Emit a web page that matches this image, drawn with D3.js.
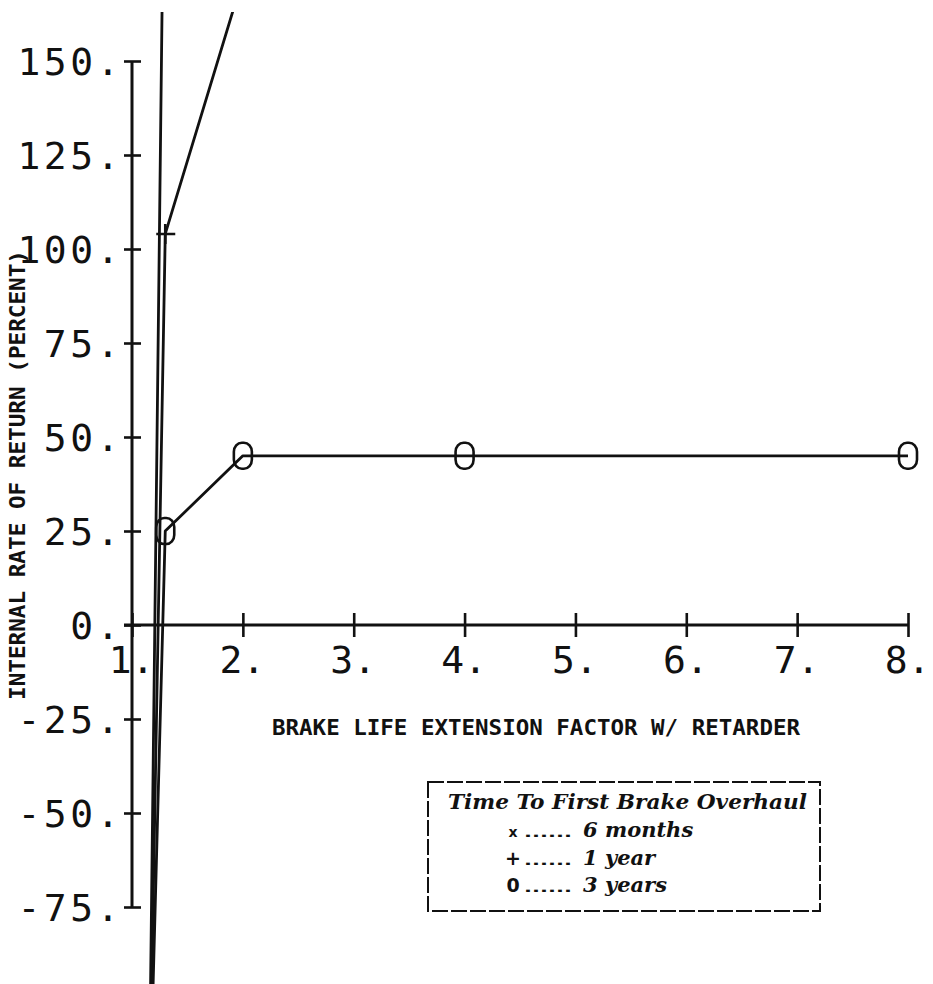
<!DOCTYPE html>
<html>
<head>
<meta charset="utf-8">
<script src="https://cdn.jsdelivr.net/npm/d3@7/dist/d3.min.js"></script>
<style>
  html, body { margin: 0; padding: 0; background: #fff; }
  svg { display: block; }
</style>
</head>
<body>
<svg id="chart" width="933" height="984"></svg>
<script>
// ---- data ----
const factors = [1.15, 1.3, 2, 4, 8];
const irr6Months = [-140, 236, 420, 420, 420];
const irr1Year = [-140, 104, 172, 175, 175];
const irr3Years = [-140, 25, 45, 45, 45];
const xTicks = [1, 2, 3, 4, 5, 6, 7, 8];
const yTicks = [-75, -50, -25, 0, 25, 50, 75, 100, 125, 150];
const legendTitle = "Time To First Brake Overhaul";
const legendItems = [
  { sym: "x", label: "6 months" },
  { sym: "+", label: "1 year" },
  { sym: "0", label: "3 years" }
];
const xTitle = "BRAKE LIFE EXTENSION FACTOR W/ RETARDER";
const yTitle = "INTERNAL RATE OF RETURN (PERCENT)";

// ---- layout ----
const svg = d3.select("#chart");
const x = d3.scaleLinear().domain([1, 8]).range([132, 908]);
const y = d3.scaleLinear().domain([-75, 150]).range([907, 61]);
const ink = "#111";
const monoFont = "'DejaVu Sans Mono', 'Liberation Mono', monospace";

// clip region for data (plot frame top ~ y=12)
svg.append("defs").append("clipPath").attr("id", "plotclip")
  .append("rect").attr("x", 0).attr("y", 12).attr("width", 933).attr("height", 1000);

// ---- Y axis ----
const yAxis = d3.axisLeft(y).tickValues(yTicks).tickSize(0).tickFormat(d => String(d) + ".");
const gy = svg.append("g").attr("transform", `translate(${x(1)},0)`).call(yAxis);
gy.select(".domain").remove();
gy.selectAll(".tick line").attr("x1", -8).attr("x2", 9)
  .attr("stroke", ink).attr("stroke-width", 2.6);
gy.selectAll(".tick text")
  .attr("x", -9).attr("dy", "0.36em")
  .attr("font-family", monoFont).attr("font-size", 38).attr("fill", ink)
  .attr("letter-spacing", 3.5)
  .attr("text-anchor", "end");
gy.append("line").attr("x1", 0).attr("x2", 0).attr("y1", y(150)).attr("y2", y(-75))
  .attr("stroke", ink).attr("stroke-width", 3);

// ---- X axis ----
const xAxis = d3.axisBottom(x).tickValues(xTicks).tickSize(0).tickFormat(d => String(d) + ".");
const gx = svg.append("g").attr("transform", `translate(0,${y(0)})`).call(xAxis);
gx.select(".domain").remove();
gx.selectAll(".tick line").attr("y1", -12).attr("y2", 12)
  .attr("stroke", ink).attr("stroke-width", 2.6);
gx.selectAll(".tick text")
  .attr("y", 48).attr("dy", 0).attr("x", -1)
  .attr("font-family", monoFont).attr("font-size", 38).attr("fill", ink)
  .attr("text-anchor", "middle");
gx.append("line").attr("x1", x(1) - 8).attr("x2", x(8)).attr("y1", 0).attr("y2", 0)
  .attr("stroke", ink).attr("stroke-width", 3);

// ---- axis titles ----
svg.append("text")
  .attr("x", 272).attr("y", 735)
  .attr("textLength", 528).attr("lengthAdjust", "spacingAndGlyphs")
  .attr("font-family", monoFont).attr("font-weight", "bold").attr("font-size", 22)
  .attr("fill", ink).text(xTitle);

svg.append("text")
  .attr("transform", "translate(25,700) rotate(-90)")
  .attr("x", 0).attr("y", 0)
  .attr("textLength", 450).attr("lengthAdjust", "spacingAndGlyphs")
  .attr("font-family", monoFont).attr("font-weight", "bold").attr("font-size", 21)
  .attr("fill", ink).text(yTitle);

// ---- data lines ----
const line = d3.line().x(d => x(d[0])).y(d => y(d[1]));
const plot = svg.append("g").attr("clip-path", "url(#plotclip)");
const series = [
  { key: "6m", values: irr6Months, sym: "x" },
  { key: "1y", values: irr1Year, sym: "+" },
  { key: "3y", values: irr3Years, sym: "0" }
];
series.forEach(s => {
  const pts = factors.map((f, i) => [f, s.values[i]]);
  plot.append("path").datum(pts).attr("d", line)
    .attr("fill", "none").attr("stroke", ink).attr("stroke-width", 2.8)
    .attr("stroke-linejoin", "round");
  const mk = plot.selectAll(null).data(pts.slice(1)).enter().append("g")
    .attr("transform", d => `translate(${x(d[0])},${y(d[1])})`);
  if (s.sym === "0") {
    mk.append("rect").attr("x", -9).attr("y", -13).attr("width", 18).attr("height", 26)
      .attr("rx", 8).attr("ry", 9)
      .attr("fill", "none").attr("stroke", ink).attr("stroke-width", 2.6);
  } else if (s.sym === "+") {
    mk.append("path").attr("d", "M-9,0H10M0,-10V10")
      .attr("stroke", ink).attr("stroke-width", 2.6);
  } else {
    mk.append("path").attr("d", "M-6,-6L6,6M-6,6L6,-6")
      .attr("stroke", ink).attr("stroke-width", 2.6);
  }
});

// ---- legend ----
const lg = svg.append("g");
lg.append("rect").attr("x", 428).attr("y", 782).attr("width", 392).attr("height", 129)
  .attr("fill", "none").attr("stroke", ink).attr("stroke-width", 2)
  .attr("stroke-dasharray", "16,3");
lg.append("text").attr("x", 448).attr("y", 809)
  .attr("textLength", 359).attr("lengthAdjust", "spacingAndGlyphs")
  .attr("font-family", "'DejaVu Serif', serif").attr("font-style", "italic")
  .attr("font-weight", "bold").attr("font-size", 21).attr("fill", ink)
  .text(legendTitle);
legendItems.forEach((it, i) => {
  const by = 837 + i * 27.5;
  lg.append("text").attr("x", 513).attr("y", by).attr("text-anchor", "middle")
    .attr("font-family", "'DejaVu Sans', sans-serif").attr("font-weight", "bold")
    .attr("font-size", it.sym === "x" ? 14 : 19).attr("fill", ink).text(it.sym);
  lg.append("text").attr("x", 524).attr("y", by)
    .attr("textLength", 48).attr("lengthAdjust", "spacingAndGlyphs")
    .attr("font-family", "'DejaVu Sans', sans-serif").attr("font-weight", "bold")
    .attr("font-size", 12).attr("fill", ink).text("......");
  lg.append("text").attr("x", 583).attr("y", by)
    .attr("font-family", "'DejaVu Serif', serif").attr("font-style", "italic")
    .attr("font-weight", "bold").attr("font-size", 21).attr("fill", ink)
    .text(it.label);
});
</script>
</body>
</html>
